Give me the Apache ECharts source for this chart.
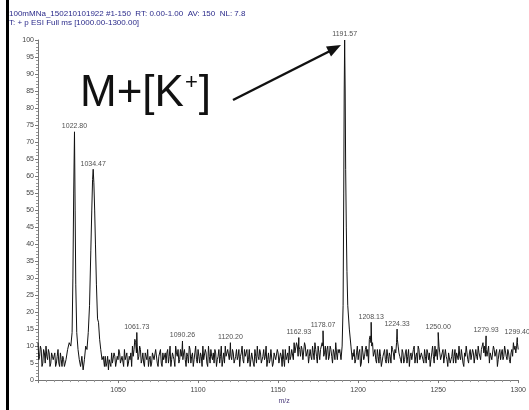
<!DOCTYPE html>
<html>
<head>
<meta charset="utf-8">
<script src="https://cdn.jsdelivr.net/npm/echarts@6/dist/echarts.min.js"></script>
<style>
  html, body { margin: 0; padding: 0; background: #fff; }
  #chart { width: 529px; height: 410px; }
</style>
</head>
<body>
<div id="chart"></div>
<script>
// baseline noise, one value per m/z unit from 1000 to 1300
const noiseStart = 1000;
const noise = [
  11, 7, 9, 5, 8, 10, 6, 8, 5, 7,
  6, 4, 7, 5, 8, 4, 6, 5, 7, 9,
  9, 9, 9, 9, 9, 9, 9, 9, 9, 9,
  9, 9, 9, 9, 9, 9, 9, 9, 9, 9,
  6, 4, 7, 5, 3, 6, 8, 5, 7, 4,
  6, 8, 5, 7, 9, 6, 4, 7, 8, 10,
  9, 11, 10, 7, 9, 6, 5, 8, 6, 4,
  7, 5, 8, 6, 9, 4, 7, 5, 8, 6,
  5, 9, 7, 4, 8, 6, 10, 7, 5, 9,
  9, 8, 6, 8, 5, 9, 7, 4, 8, 6,
  9, 5, 7, 10, 6, 8, 4, 7, 9, 6,
  5, 8, 6, 9, 7, 4, 8, 10, 7, 9,
  9, 6, 8, 5, 9, 7, 4, 8, 6, 9,
  7, 5, 9, 6, 8, 4, 7, 10, 6, 8,
  5, 9, 7, 4, 8, 6, 9, 5, 7, 6,
  8, 5, 7, 9, 4, 6, 8, 10, 7, 9,
  11, 8, 10, 10, 7, 9, 6, 10, 8, 5,
  9, 6, 8, 11, 7, 10, 6, 9, 10, 8,
  6, 10, 7, 9, 5, 8, 11, 6, 8, 9,
  9, 9, 9, 9, 9, 9, 9, 7, 5, 8,
  6, 9, 5, 8, 7, 10, 9, 12, 11, 11,
  8, 6, 9, 5, 7, 4, 8, 6, 9, 5,
  7, 10, 8, 9, 11, 10, 7, 5, 8, 6,
  9, 7, 4, 8, 6, 10, 7, 5, 9, 6,
  8, 5, 7, 9, 6, 4, 8, 7, 10, 9,
  10, 8, 6, 9, 5, 7, 4, 8, 6, 9,
  7, 5, 8, 10, 6, 9, 4, 7, 8, 5,
  9, 6, 8, 5, 7, 10, 8, 9, 11, 10,
  9, 7, 5, 8, 6, 9, 7, 4, 8, 6,
  9, 7, 10, 6, 8, 5, 9, 11, 10, 10,
  9
];
// noise read between the whole units, m/z 1000.5 to 1299.5
const noiseHalfStart = 1000.5;
const noiseHalf = [
  6, 10, 4, 9, 5, 7, 9, 4, 8, 6,
  8, 5, 9, 4, 6, 7, 4, 8, 6, 8,
  9, 9, 9, 9, 9, 9, 9, 9, 9, 9,
  9, 9, 9, 9, 9, 9, 9, 9, 9, 9,
  5, 8, 4, 7, 6, 4, 5, 8, 4, 7,
  9, 5, 7, 4, 6, 8, 5, 6, 4, 7,
  12, 8, 6, 10, 5, 8, 4, 7, 9, 6,
  4, 8, 6, 9, 5, 7, 9, 4, 6, 8,
  8, 5, 10, 6, 7, 4, 8, 9, 6, 7,
  6, 9, 4, 7, 10, 5, 8, 6, 10, 5,
  7, 8, 4, 6, 9, 5, 10, 5, 7, 8,
  9, 4, 7, 5, 10, 6, 5, 7, 9, 6,
  7, 9, 5, 7, 6, 9, 7, 10, 5, 7,
  9, 6, 4, 8, 5, 9, 5, 7, 9, 5,
  7, 6, 10, 6, 5, 9, 4, 8, 6, 9,
  5, 8, 4, 6, 9, 7, 5, 6, 9, 6,
  8, 11, 7, 9, 10, 6, 11, 7, 9, 7,
  7, 10, 6, 9, 5, 8, 9, 11, 7, 10,
  9, 6, 10, 7, 9, 6, 8, 9, 6, 9,
  9, 9, 9, 9, 9, 9, 9, 9, 6, 10,
  8, 4, 10, 6, 9, 7, 5, 13, 10, 7,
  9, 5, 7, 9, 4, 7, 9, 5, 7, 8,
  5, 9, 6, 8, 12, 8, 6, 9, 5, 8,
  5, 9, 7, 6, 9, 5, 8, 10, 6, 8,
  6, 9, 5, 8, 8, 6, 10, 5, 7, 6,
  10, 6, 8, 5, 9, 6, 8, 5, 7, 5,
  9, 8, 6, 7, 9, 5, 8, 10, 6, 8,
  6, 9, 5, 9, 6, 8, 6, 10, 8, 7,
  7, 10, 8, 6, 10, 7, 9, 6, 9, 8,
  6, 10, 7, 9, 6, 8, 7, 9, 8, 11
];

// the two big clusters, [m/z, intensity]
const cluster1 = [
  [1017.5, 6], [1018.5, 9], [1019.5, 11], [1020.5, 10], [1021.3, 14], [1021.8, 30],
  [1022.3, 55], [1022.8, 73], [1023.2, 50], [1023.6, 28], [1024.2, 14], [1025, 9],
  [1025.8, 6], [1026.6, 4], [1027.4, 7], [1028.2, 3], [1029, 6], [1029.8, 10],
  [1030.6, 9], [1031.4, 14], [1032.2, 22], [1033, 38], [1033.6, 50], [1034.1, 59],
  [1034.47, 62], [1034.9, 58], [1035.4, 50], [1035.9, 40], [1036.5, 28], [1037.2, 18],
  [1037.8, 17], [1038.5, 12], [1039.2, 9], [1040, 6], [1040.8, 7], [1041.5, 4]
];
const cluster2 = [
  [1188.5, 9], [1189.3, 6], [1190, 10], [1190.6, 22], [1191, 55], [1191.3, 85],
  [1191.57, 100], [1191.9, 85], [1192.2, 62], [1192.6, 45], [1193, 32], [1193.5, 22],
  [1194.5, 15], [1195.5, 10], [1196.3, 6], [1196.8, 8]
];

// labelled peaks
const peakMz = [1022.80, 1034.47, 1061.73, 1090.26, 1120.20, 1162.93, 1178.07,
  1191.57, 1208.13, 1224.33, 1250.00, 1279.93, 1299.40];
const peakInt = [73, 62, 14, 11.5, 11, 12.5, 14.5, 100, 17, 15, 14, 13, 12.5];

const yTicks = [0, 100, 5];
const xTicks = [1000, 1300, 50];

// build the line: noise outside the clusters, plus clusters and small peaks
const clusters = [cluster1, cluster2];
const inCluster = mz => clusters.some(c => mz >= c[0][0] && mz <= c[c.length - 1][0]);
const lineData = [];
noise.forEach((v, i) => {
  const mz = noiseStart + i;
  if (!inCluster(mz)) lineData.push([mz, v]);
});
noiseHalf.forEach((v, i) => {
  const mz = noiseHalfStart + i;
  if (!inCluster(mz)) lineData.push([mz, v]);
});
clusters.forEach(c => c.forEach(p => lineData.push(p)));
peakMz.forEach((mz, i) => {
  if (!inCluster(mz)) lineData.push([mz, peakInt[i]]);
});
lineData.sort((a, b) => a[0] - b[0]);

const chart = echarts.init(document.getElementById('chart'));
const font = 'Liberation Sans, Arial, sans-serif';

chart.setOption({
  animation: false,
  grid: { left: 38, right: 7, top: 40, bottom: 25 },
  xAxis: {
    type: 'value',
    min: xTicks[0], max: xTicks[1], interval: xTicks[2],
    name: 'm/z', nameLocation: 'middle', nameGap: 15,
    nameTextStyle: { fontSize: 7, color: '#4a3a7a', fontFamily: font, padding: [0, 0, 0, 12] },
    axisLine: { lineStyle: { color: '#777', width: 1 } },
    axisTick: { length: 3, lineStyle: { color: '#777' } },
    minorTick: { show: true, splitNumber: 10, length: 2, lineStyle: { color: '#999' } },
    axisLabel: { fontSize: 7, color: '#444', fontFamily: font, margin: 6, showMinLabel: false,
      formatter: v => String(v) },
    splitLine: { show: false }
  },
  yAxis: {
    type: 'value',
    min: yTicks[0], max: yTicks[1], interval: yTicks[2],
    axisLine: { show: true, lineStyle: { color: '#777', width: 1 } },
    axisTick: { show: true, length: 3, lineStyle: { color: '#777' } },
    minorTick: { show: true, splitNumber: 5, length: 2, lineStyle: { color: '#999' } },
    axisLabel: { fontSize: 7, color: '#444', fontFamily: font, margin: 4 },
    splitLine: { show: false }
  },
  series: [
    {
      type: 'line',
      data: lineData,
      showSymbol: false,
      lineStyle: { color: '#111', width: 1 },
      silent: true
    },
    {
      type: 'scatter',
      data: peakMz.map((mz, i) => [mz, peakInt[i]]),
      symbolSize: 0,
      label: {
        show: true, position: 'top', distance: 2,
        formatter: p => p.value[0].toFixed(2),
        fontSize: 7, color: '#222', fontFamily: font
      },
      silent: true
    }
  ],
  graphic: [
    { type: 'rect', shape: { x: 6, y: 0, width: 3, height: 410 }, style: { fill: '#000' } },
    {
      type: 'text', left: 9, top: 10,
      style: {
        text: '100mMNa_150210101922 #1-150  RT: 0.00-1.00  AV: 150  NL: 7.8',
        fontSize: 8, fill: '#2a2a8a', fontFamily: font
      }
    },
    {
      type: 'text', left: 9, top: 19,
      style: {
        text: 'T: + p ESI Full ms [1000.00-1300.00]',
        fontSize: 8, fill: '#2a2a8a', fontFamily: font
      }
    },
    {
      type: 'text', left: 80, top: 72,
      style: {
        text: '{a|M+[K}{s|+}{a|]}',
        fontFamily: font, fill: '#111',
        rich: {
          a: { fontSize: 44, lineHeight: 44, fontFamily: font, fill: '#111' },
          s: { fontSize: 22, lineHeight: 44, fontFamily: font, fill: '#111', verticalAlign: 'top', padding: [0, 1, 20, 1] }
        }
      }
    },
    { type: 'line', shape: { x1: 233, y1: 100, x2: 330, y2: 51 }, style: { stroke: '#111', lineWidth: 2.5 } },
    { type: 'polygon', shape: { points: [[341, 45], [331, 56.5], [326, 46.5]] }, style: { fill: '#111' } }
  ]
});
</script>
</body>
</html>
